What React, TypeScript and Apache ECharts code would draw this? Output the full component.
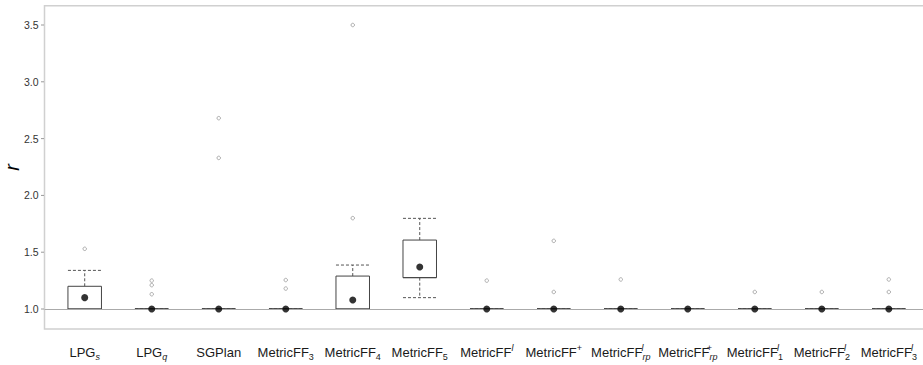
import React, { useEffect, useRef } from "react";
import * as echarts from "echarts";

// Category tick labels (rich text markup for sub/superscripts)
const categoryLabels: string[] = [
  "LPG{si|s}",
  "LPG{si|q}",
  "SGPlan",
  "MetricFF{sn|3}",
  "MetricFF{sn|4}",
  "MetricFF{sn|5}",
  "MetricFF{pi|l}",
  "MetricFF{pn|+}",
  "MetricFF{piz|l}{si|rp}",
  "MetricFF{pnz|+}{si|rp}",
  "MetricFF{piz|l}{sn|1}",
  "MetricFF{piz|l}{sn|2}",
  "MetricFF{piz|l}{sn|3}",
];

const whiskerLow = [1, 1, 1, 1, 1, 1.1, 1, 1, 1, 1, 1, 1, 1];
const q1 = [1, 1, 1, 1, 1, 1.276, 1, 1, 1, 1, 1, 1, 1];
const median = [1, 1, 1, 1, 1, 1.276, 1, 1, 1, 1, 1, 1, 1];
const q3 = [1.2, 1, 1, 1, 1.29, 1.607, 1, 1, 1, 1, 1, 1, 1];
const whiskerHigh = [1.34, 1, 1, 1, 1.387, 1.798, 1, 1, 1, 1, 1, 1, 1];
const means = [1.1, 1, 1, 1, 1.079, 1.37, 1, 1, 1, 1, 1, 1, 1];

// [category index, value]
const outliers: [number, number][] = [
  [0, 1.53],
  [1, 1.25], [1, 1.21], [1, 1.13],
  [2, 2.68], [2, 2.33],
  [3, 1.255], [3, 1.18],
  [4, 3.5], [4, 1.8],
  [6, 1.25],
  [7, 1.6], [7, 1.15],
  [8, 1.26],
  [10, 1.15],
  [11, 1.15],
  [12, 1.26], [12, 1.15],
];

const yTicks = [1, 1.5, 2, 2.5, 3, 3.5];

const X_MIN = -0.6;
const X_MAX = 12.6;

const FONT = "'Liberation Sans', Arial, Helvetica, sans-serif";

export default function App() {
  const ref = useRef<HTMLDivElement>(null);
  useEffect(() => {
    if (!ref.current) return;
    const chart = echarts.init(ref.current, null, { renderer: "svg" });
    const boxData = categoryLabels.map((_, i) => [
      i, whiskerLow[i], q1[i], median[i], q3[i], whiskerHigh[i],
    ]);
    const meanData = means.map((m, i) => [i, m]);
    const xTicks = categoryLabels.map((_, i) => i);
    const tickData = yTicks.map((v) => [X_MIN, v]);

    const option: any = {
      animation: false,
      backgroundColor: "#fff",
      grid: {
        left: 44.5,
        top: 5.7,
        width: 884.5,
        height: 323.3,
        show: true,
        borderColor: "#d0d0d0",
        borderWidth: 1.5,
        backgroundColor: "transparent",
        containLabel: false,
        outerBoundsMode: "none",
      },
      xAxis: {
        type: "value",
        min: X_MIN,
        max: X_MAX,
        axisLine: { show: false },
        axisTick: { show: false },
        splitLine: { show: false },
        axisLabel: {
          customValues: xTicks,
          margin: 14,
          formatter: (v: number) => categoryLabels[Math.round(v)] ?? "",
          color: "#1a1a1a",
          fontSize: 13,
          fontFamily: FONT,
          lineHeight: 18,
          hideOverlap: false,
          rich: {
            si: { fontSize: 9, fontStyle: "italic", fontFamily: FONT, color: "#1a1a1a", lineHeight: 10, verticalAlign: "bottom" },
            sn: { fontSize: 9, fontFamily: FONT, color: "#1a1a1a", lineHeight: 10, verticalAlign: "bottom" },
            pi: { fontSize: 9, fontStyle: "italic", fontFamily: FONT, color: "#1a1a1a", lineHeight: 12, verticalAlign: "top" },
            pn: { fontSize: 9, fontFamily: FONT, color: "#1a1a1a", lineHeight: 12, verticalAlign: "top" },
            piz: { fontSize: 9, fontStyle: "italic", fontFamily: FONT, color: "#1a1a1a", lineHeight: 12, verticalAlign: "top", width: 0.01 },
            pnz: { fontSize: 9, fontFamily: FONT, color: "#1a1a1a", lineHeight: 12, verticalAlign: "top", width: 0.01 },
          },
        },
      },
      yAxis: {
        type: "value",
        min: 0.824,
        max: 3.67,
        name: "r",
        nameLocation: "middle",
        nameRotate: 90,
        nameGap: 23,
        nameMoveOverlap: false,
        nameTextStyle: { fontSize: 20, lineHeight: 20, fontStyle: "italic", color: "#000", fontFamily: FONT },
        axisLine: { show: false },
        splitLine: { show: false },
        axisTick: { show: false },
        axisLabel: {
          customValues: yTicks,
          margin: 6,
          formatter: (v: number) => v.toFixed(1),
          color: "#333",
          fontSize: 10.5,
          fontFamily: FONT,
        },
      },
      series: [
        {
          // y-axis tick marks, placed through the axes
          type: "custom",
          data: tickData,
          encode: { x: 0, y: 1 },
          clip: false,
          silent: true,
          z: 1,
          renderItem: (params: any, api: any) => {
            const [x, y] = api.coord([api.value(0), api.value(1)]);
            return {
              type: "line",
              shape: { x1: x - 3.5, y1: y, x2: x - 0.5, y2: y },
              style: { stroke: "#999", lineWidth: 1 },
            };
          },
        },
        {
          type: "custom",
          data: boxData,
          encode: { x: 0, y: [1, 2, 3, 4, 5] },
          z: 3,
          renderItem: (params: any, api: any) => {
            const i = api.value(0);
            const [cx, yLo] = api.coord([i, api.value(1)]);
            const yQ1 = api.coord([i, api.value(2)])[1];
            const yMed = api.coord([i, api.value(3)])[1];
            const yQ3 = api.coord([i, api.value(4)])[1];
            const yHi = api.coord([i, api.value(5)])[1];
            const bw = api.size([0.5, 0])[0];
            const hw = bw / 2;
            const dash = { stroke: "#555", lineWidth: 1, lineDash: [3, 2] };
            return {
              type: "group",
              children: [
                { type: "line", shape: { x1: cx, y1: yQ3, x2: cx, y2: yHi }, style: dash },
                { type: "line", shape: { x1: cx - hw, y1: yHi, x2: cx + hw, y2: yHi }, style: dash },
                { type: "line", shape: { x1: cx, y1: yQ1, x2: cx, y2: yLo }, style: dash },
                { type: "line", shape: { x1: cx - hw, y1: yLo, x2: cx + hw, y2: yLo }, style: dash },
                {
                  type: "rect",
                  shape: { x: cx - hw, y: yQ3, width: bw, height: Math.max(yQ1 - yQ3, 0) },
                  style: { fill: "#fff", stroke: "#444", lineWidth: 1 },
                },
                { type: "line", shape: { x1: cx - hw, y1: yMed, x2: cx + hw, y2: yMed }, style: { stroke: "#444", lineWidth: 1 } },
              ],
            };
          },
          markLine: {
            silent: true,
            symbol: "none",
            label: { show: false },
            lineStyle: { color: "#aaa", width: 1, type: "solid" },
            data: [{ yAxis: 1 }],
          },
        },
        {
          type: "scatter",
          data: outliers,
          symbol: "circle",
          symbolSize: 3.5,
          z: 4,
          itemStyle: { color: "#fff", borderColor: "#999", borderWidth: 1 },
        },
        {
          type: "scatter",
          data: meanData,
          symbol: "circle",
          symbolSize: 7,
          z: 5,
          itemStyle: { color: "#000" },
        },
      ],
    };
    chart.setOption(option);
    return () => chart.dispose();
  }, []);
  return (
    <div
      ref={ref}
      style={{ position: "fixed", left: 0, top: 0, width: 923, height: 365, background: "#fff" }}
    />
  );
}
